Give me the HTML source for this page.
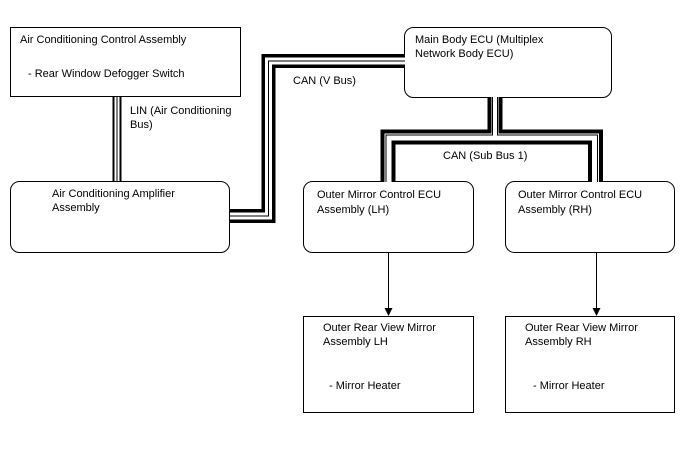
<!DOCTYPE html><html><head><style>
body{margin:0;background:#fff}
svg text{font-family:"Liberation Sans",sans-serif;font-size:11px;fill:#000}
</style></head><body>
<svg width="688" height="463" viewBox="0 0 688 463" xmlns="http://www.w3.org/2000/svg">
<g fill="none" stroke="#000">
<rect x="10.5" y="27.5" width="230" height="69"/>
<rect x="10.5" y="181.5" width="219" height="71" rx="9"/>
<rect x="404.5" y="27.5" width="207" height="70" rx="9"/>
<rect x="303.5" y="181.5" width="170" height="71" rx="9"/>
<rect x="505.5" y="181.5" width="169" height="71" rx="9"/>
<rect x="303.5" y="316.5" width="170" height="96"/>
<rect x="505.5" y="316.5" width="169" height="96"/>
</g>
<g fill="none" stroke-linejoin="miter">
<path d="M230 216 H268.5 V61 H405" stroke="#000" stroke-width="14"/>
<path d="M230 216 H268.5 V61 H405" stroke="#fff" stroke-width="7"/>
<path d="M230 216 H268.5 V61 H405" stroke="#000" stroke-width="1"/>
<path d="M495 97 V137 H388 V182 M495 97 V137 H595.5 V182" stroke="#000" stroke-width="15"/>
<path d="M495 97 V137 H388 V182 M495 97 V137 H595.5 V182" stroke="#fff" stroke-width="7"/>
<path d="M492.5 97 V135 H386 V182 M497.5 97 V135 H597.5 V182" stroke="#000" stroke-width="1"/>
<path d="M117 97 V181" stroke="#000" stroke-width="9"/>
<path d="M117 97 V181" stroke="#fff" stroke-width="5"/>
<path d="M117 97 V181" stroke="#000" stroke-width="1"/>
</g>
<g stroke="#000">
<line x1="388.5" y1="253" x2="388.5" y2="310"/>
<line x1="596.5" y1="253" x2="596.5" y2="310"/>
</g>
<polygon points="384.5,308 392.5,308 388.5,316" fill="#000"/>
<polygon points="592.5,308 600.5,308 596.5,316" fill="#000"/>
<text x="20" y="43">Air Conditioning Control Assembly</text>
<text x="28" y="77">- Rear Window Defogger Switch</text>
<text x="130" y="114">LIN (Air Conditioning</text>
<text x="130" y="128">Bus)</text>
<text x="52" y="197">Air Conditioning Amplifier</text>
<text x="52" y="211">Assembly</text>
<text x="415" y="43">Main Body ECU (Multiplex</text>
<text x="415" y="57">Network Body ECU)</text>
<text x="293" y="84">CAN (V Bus)</text>
<text x="443" y="159">CAN (Sub Bus 1)</text>
<text x="317" y="198">Outer Mirror Control ECU</text>
<text x="317" y="213">Assembly (LH)</text>
<text x="518" y="198">Outer Mirror Control ECU</text>
<text x="518" y="213">Assembly (RH)</text>
<text x="323" y="331">Outer Rear View Mirror</text>
<text x="323" y="345">Assembly LH</text>
<text x="329" y="389">- Mirror Heater</text>
<text x="525" y="331">Outer Rear View Mirror</text>
<text x="525" y="345">Assembly RH</text>
<text x="533" y="389">- Mirror Heater</text>
</svg>
</body></html>
